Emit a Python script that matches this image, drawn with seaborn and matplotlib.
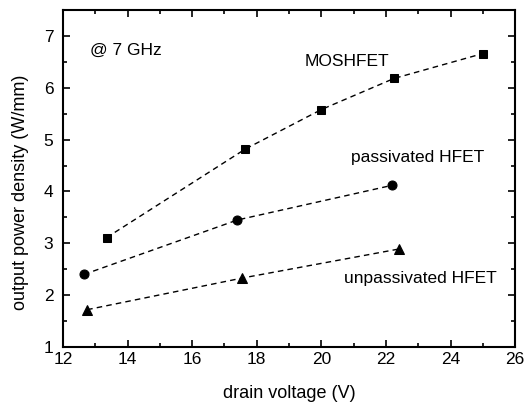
import matplotlib
matplotlib.use("Agg")
import matplotlib.pyplot as plt
from matplotlib.ticker import MultipleLocator
import seaborn as sns
import pandas as pd

# data
mos_v = [13.35, 17.65, 20.0, 22.25, 25.0]
mos_p = [3.11, 4.82, 5.58, 6.18, 6.66]
pas_v = [12.65, 17.4, 22.2]
pas_p = [2.40, 3.45, 4.12]
unp_v = [12.75, 17.55, 22.4]
unp_p = [1.72, 2.33, 2.89]

sns.set_theme(style="ticks")
plt.rcParams['font.family'] = ['Liberation Sans', 'DejaVu Sans']
plt.rcParams['text.color'] = 'black'
plt.rcParams['axes.labelcolor'] = 'black'

fig = plt.figure(figsize=(5.27, 4.07), dpi=100)
ax = fig.add_axes([0.1195, 0.1474, 0.858, 0.828])

series = [(mos_v, mos_p, 's', 6), (pas_v, pas_p, 'o', 6.5), (unp_v, unp_p, '^', 7)]
for v, p, m, ms in series:
    df = pd.DataFrame({'v': v, 'p': p})
    sns.lineplot(data=df, x='v', y='p', ax=ax, color='black', marker=m,
                 markersize=ms, linestyle=(0, (4, 3)), linewidth=1.0,
                 markeredgecolor='black', sort=False)

ax.set_xlim(12, 26)
ax.set_ylim(1, 7.5)
ax.xaxis.set_major_locator(MultipleLocator(2))
ax.xaxis.set_minor_locator(MultipleLocator(1))
ax.yaxis.set_major_locator(MultipleLocator(1))
ax.yaxis.set_minor_locator(MultipleLocator(0.5))
ax.tick_params(which='both', direction='in', top=True, right=True, colors='black',
               labelcolor='black', labelsize=12.5, width=1.2)
ax.tick_params(which='major', length=5)
ax.tick_params(which='minor', length=3)
ax.tick_params(axis='y', which='major', pad=7)
for s in ax.spines.values():
    s.set_linewidth(1.5)
    s.set_color('black')

ax.set_xlabel('drain voltage (V)', fontsize=13, labelpad=13)
ax.set_ylabel('output power density (W/mm)', fontsize=13)
ax.yaxis.set_label_coords(-0.075, 0.46)

ax.text(12.85, 6.72, '@ 7 GHz', fontsize=12.5, va='center', ha='left')
ax.text(19.47, 6.5, 'MOSHFET', fontsize=12.5, va='center', ha='left')
ax.text(20.92, 4.66, 'passivated HFET', fontsize=12.5, va='center', ha='left')
ax.text(20.7, 2.33, 'unpassivated HFET', fontsize=12.5, va='center', ha='left')

fig.savefig('out.png', dpi=100)
